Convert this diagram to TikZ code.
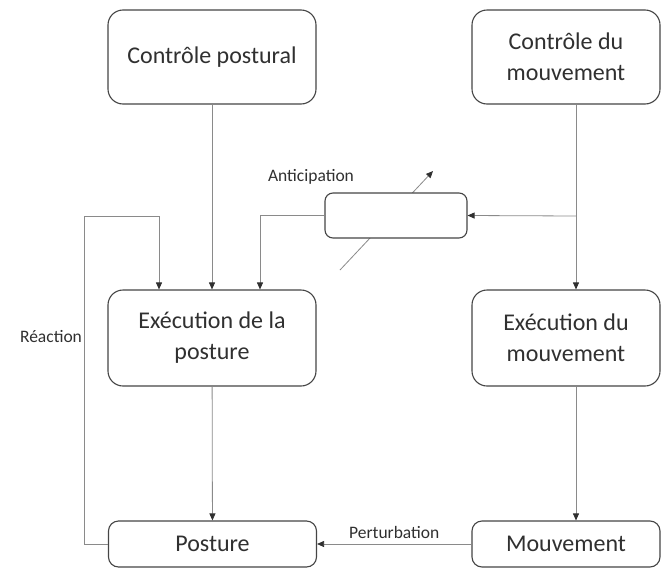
\documentclass[tikz,border=0pt]{standalone}
\usepackage{fontspec}
\setmainfont{Carlito}
\usetikzlibrary{arrows.meta}
\definecolor{boxline}{HTML}{454545}
\definecolor{wire}{HTML}{8A8A8A}
\definecolor{ink}{HTML}{303030}

\begin{document}
\begin{tikzpicture}[x=1pt,y=-1pt,
                    >={Triangle[length=7pt,width=6pt,color=ink]},
                    semithick]

  \tikzstyle{box}=[rectangle,draw=boxline,line width=1.1pt,fill=white,
                   rounded corners=15pt,align=center,text=ink,
                   font=\fontsize{24}{31}\selectfont,inner sep=0pt]
  \tikzstyle{wire}=[draw=wire,line width=0.8pt]
  \tikzstyle{label}=[text=ink,font=\fontsize{17.5}{20}\selectfont]

  \useasboundingbox (0,0) rectangle (670,568);

  \coordinate (split) at (576,216);
  \coordinate (reac)  at (84,216);
  \coordinate (varA)  at (340,270);
  \coordinate (varB)  at (433,171);

  % adjustable element, drawn first so the box hides its middle
  \draw[wire,->] (varA) -- (varB);

  \node[box,minimum width=208,minimum height=94] (cp) at (212,57)
       {Contrôle postural};
  \node[box,minimum width=188,minimum height=94] (cm) at (566,57)
       {Contrôle du\\mouvement};
  \node[box,rounded corners=8pt,minimum width=142,minimum height=45]
       (ant) at (396,215.5) {};
  \node[box,minimum width=208,minimum height=96] (ep) at (212,338)
       {Exécution de la\\posture};
  \node[box,minimum width=188,minimum height=96] (em) at (566,338)
       {Exécution du\\mouvement};
  \node[box,rounded corners=10pt,minimum width=208,minimum height=46]
       (post) at (212.5,544) {Posture};
  \node[box,rounded corners=10pt,minimum width=188,minimum height=46]
       (mouv) at (566,544) {Mouvement};

  \node[label] (antlbl)  at (311,177) {Anticipation};
  \node[label] (reaclbl) at (51,337)  {Réaction};

  \draw[wire,->] (cp) -- (ep);
  \draw[wire,->] (cm.south -| split) -- (em.north -| split);
  \draw[wire,->] (split) -- (ant.east);
  \draw[wire,->] (ep) -- (post);
  \draw[wire,->] (em.south -| split) -- (mouv.north -| split);
  \draw[wire,->] (mouv) -- node[label,above=2pt] {Perturbation} (post);
  \draw[wire,->] (ant.west) -| ([xshift=48pt]ep.north);
  \draw[wire,->] (post.west) -| (reac) -| ([xshift=-53pt]ep.north);
\end{tikzpicture}
\end{document}
